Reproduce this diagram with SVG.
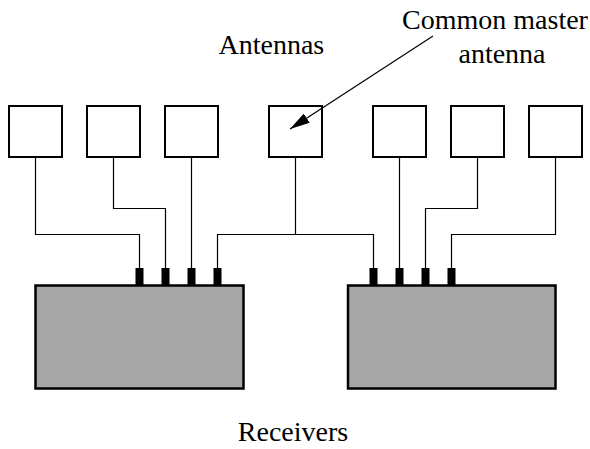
<svg xmlns="http://www.w3.org/2000/svg" width="590" height="449" viewBox="0 0 590 449">
  <style>
    .antenna { fill: #ffffff; stroke: #000000; stroke-width: 2; }
    .receiver { fill: #a6a6a6; stroke: #000000; stroke-width: 2.5; }
    .pin { fill: #000000; }
    .wire { fill: none; stroke: #000000; stroke-width: 1.2; }
    .label { font-family: "Liberation Serif", "Times New Roman", serif; font-size: 28px; fill: #000000; }
  </style>
  <defs>
    <marker id="arrowhead" markerWidth="20" markerHeight="11" refX="20" refY="5.5" orient="auto" markerUnits="userSpaceOnUse">
      <path d="M0,0 L20,5.5 L0,11 Z" fill="#000000"/>
    </marker>
  </defs>

  <rect width="590" height="449" fill="#ffffff"/>

  <!-- antennas -->
  <g id="antenna-1"><rect class="antenna" x="9" y="106" width="53" height="51"/></g>
  <g id="antenna-2"><rect class="antenna" x="87" y="106" width="53" height="51"/></g>
  <g id="antenna-3"><rect class="antenna" x="165" y="106" width="53" height="51"/></g>
  <g id="antenna-master"><rect class="antenna" x="269" y="106" width="53" height="51"/></g>
  <g id="antenna-5"><rect class="antenna" x="373" y="106" width="53" height="51"/></g>
  <g id="antenna-6"><rect class="antenna" x="451" y="106" width="53" height="51"/></g>
  <g id="antenna-7"><rect class="antenna" x="529" y="106" width="53" height="51"/></g>

  <!-- wiring from antennas to receiver inputs -->
  <g id="connectors">
    <polyline class="wire" points="35.5,158 35.5,234.5 139.5,234.5 139.5,268"/>
    <polyline class="wire" points="113.5,158 113.5,208.5 165.5,208.5 165.5,268"/>
    <polyline class="wire" points="191.5,158 191.5,268"/>
    <polyline class="wire" points="217.5,268 217.5,234.5 373.5,234.5 373.5,268"/>
    <polyline class="wire" points="295.5,158 295.5,234.5"/>
    <polyline class="wire" points="399.5,158 399.5,268"/>
    <polyline class="wire" points="477.5,158 477.5,208.5 425.5,208.5 425.5,268"/>
    <polyline class="wire" points="555.5,158 555.5,234.5 451.5,234.5 451.5,268"/>
    <line class="wire" x1="433" y1="36" x2="290" y2="129" marker-end="url(#arrowhead)"/>
  </g>

  <!-- receivers with input pins -->
  <g id="receiver-left">
    <rect class="receiver" x="35.5" y="285.5" width="208" height="103"/>
    <rect class="pin" x="135.5" y="268" width="8" height="17"/>
    <rect class="pin" x="161.5" y="268" width="8" height="17"/>
    <rect class="pin" x="187.5" y="268" width="8" height="17"/>
    <rect class="pin" x="213.5" y="268" width="8" height="17"/>
  </g>
  <g id="receiver-right">
    <rect class="receiver" x="348" y="285.5" width="207.5" height="103"/>
    <rect class="pin" x="369.5" y="268" width="8" height="17"/>
    <rect class="pin" x="395.5" y="268" width="8" height="17"/>
    <rect class="pin" x="421.5" y="268" width="8" height="17"/>
    <rect class="pin" x="447.5" y="268" width="8" height="17"/>
  </g>

  <!-- labels -->
  <g id="labels">
    <text class="label" x="218.5" y="53.5">Antennas</text>
    <text class="label" x="495" y="28.5" text-anchor="middle">Common master</text>
    <text class="label" x="502" y="62.5" text-anchor="middle">antenna</text>
    <text class="label" x="293" y="441" text-anchor="middle">Receivers</text>
  </g>
</svg>
